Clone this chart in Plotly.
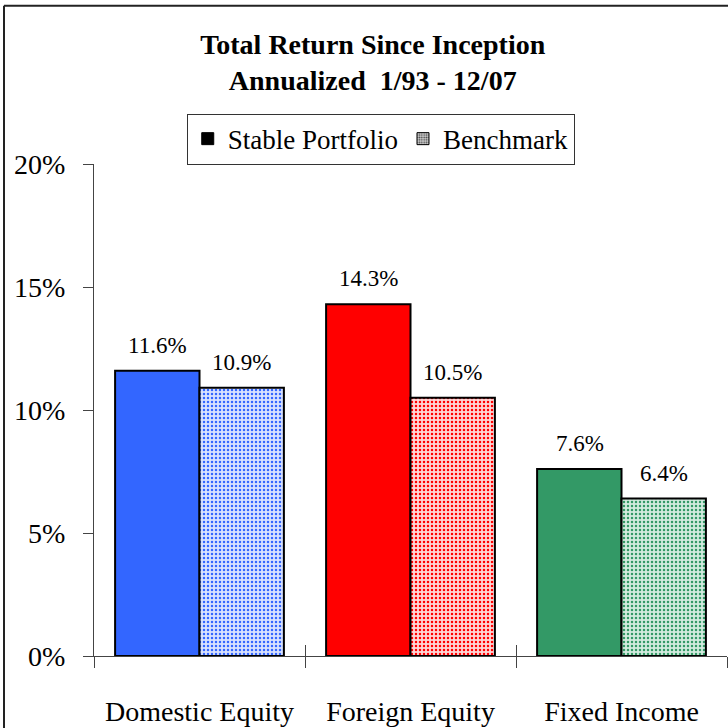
import plotly.graph_objects as go

categories = ["Domestic Equity", "Foreign Equity", "Fixed Income"]
stable = [11.6, 14.3, 7.6]
benchmark = [10.9, 10.5, 6.4]
colors = ["#3366FF", "#FF0000", "#339966"]
tints = ["#d9e2ff", "#ffd6d6", "#d3ebdf"]
series_names = ["Stable Portfolio", "Benchmark"]
y_ticks = [0, 5, 10, 15, 20]
y_tick_text = ["0%", "5%", "10%", "15%", "20%"]
title_lines = ["Total Return Since Inception", "Annualized  1/93 - 12/07"]

FONT = "Liberation Serif"

fig = go.Figure()
fig.add_trace(go.Bar(
    x=categories, y=stable, name=series_names[0], showlegend=False,
    marker=dict(color=colors, line=dict(color="black", width=2)),
))
fig.add_trace(go.Bar(
    x=categories, y=benchmark, name=series_names[1], showlegend=False,
    marker=dict(color="white", line=dict(color="black", width=2),
                pattern=dict(shape=".", fgcolor=colors, bgcolor=tints,
                             size=4, solidity=0.3, fillmode="replace")),
))
# legend proxies (drawn out of the visible range)
fig.add_trace(go.Bar(
    x=[0], y=[-1], base=-10, name=series_names[0], xaxis="x2",
    marker=dict(color="black", line=dict(color="black", width=1)),
))
fig.add_trace(go.Bar(
    x=[0], y=[-1], base=-10, name=series_names[1], xaxis="x2",
    marker=dict(color="white", line=dict(color="black", width=1),
                pattern=dict(shape=".", fgcolor="#444444", bgcolor="#d0d0d0",
                             size=3, solidity=0.4, fillmode="replace")),
))

for vals, shift in ((stable, -42), (benchmark, 42)):
    for c, v in zip(categories, vals):
        fig.add_annotation(x=c, y=v, text=f"{v:.1f}%", showarrow=False,
                           xshift=shift, yshift=11, yanchor="bottom",
                           font=dict(family=FONT, size=23, color="black"))

# outer frame (left and top edges visible in the 728x728 view)
fig.add_shape(type="line", xref="paper", yref="paper",
              x0=(4 - 94) / 633, x1=(4 - 94) / 633, y0=-0.2, y1=(658 - 5) / 494,
              line=dict(color="#222222", width=2), layer="above")
fig.add_shape(type="line", xref="paper", yref="paper",
              x0=(4 - 94) / 633, x1=1.05, y0=(658 - 5) / 494, y1=(658 - 5) / 494,
              line=dict(color="#222222", width=2), layer="above")

fig.update_layout(
    width=728, height=728,
    margin=dict(l=94, r=1, t=164, b=70),
    paper_bgcolor="white", plot_bgcolor="white",
    barmode="group", bargap=0.2, bargroupgap=0,
    font=dict(family=FONT, color="black"),
    title=dict(text="<b>" + title_lines[0] + "<br>" + title_lines[1] + "</b>",
               x=0.512, xanchor="center", y=1 - 54 / 728, yanchor="top",
               font=dict(family=FONT, size=28, color="black")),
    legend=dict(orientation="h", x=0.453, xanchor="center",
                y=(658 - 139) / 494, yanchor="middle",
                bordercolor="#333333", borderwidth=1,
                font=dict(family=FONT, size=27, color="black"),
                tracegroupgap=0),
    xaxis=dict(type="category", categoryorder="array", categoryarray=categories,
               range=[-0.5, 2.5], tickson="boundaries", ticks="outside", ticklen=11,
               tickcolor="#444444", showline=True, linecolor="#444444", linewidth=1,
               showgrid=False, tickfont=dict(family=FONT, size=28, color="black"),
               ticklabelstandoff=30, fixedrange=True),
    xaxis2=dict(overlaying="x", anchor="y", range=[-0.5, 2.5],
                tickvals=[-0.5, 0.5, 1.5, 2.5], ticks="inside", ticklen=11,
                tickcolor="#444444", showticklabels=False, showgrid=False,
                zeroline=False, showline=False),
    yaxis=dict(range=[0, 20], tickvals=y_ticks, ticktext=y_tick_text, ticks="outside",
               ticklen=10, tickcolor="#444444", showline=True, linecolor="#444444",
               linewidth=1, showgrid=False, zeroline=False,
               tickfont=dict(family=FONT, size=28, color="black"),
               ticklabelstandoff=12),
)

fig.write_html("out.html", config={"displayModeBar": False},
               post_script="document.body.style.margin='0px';")
